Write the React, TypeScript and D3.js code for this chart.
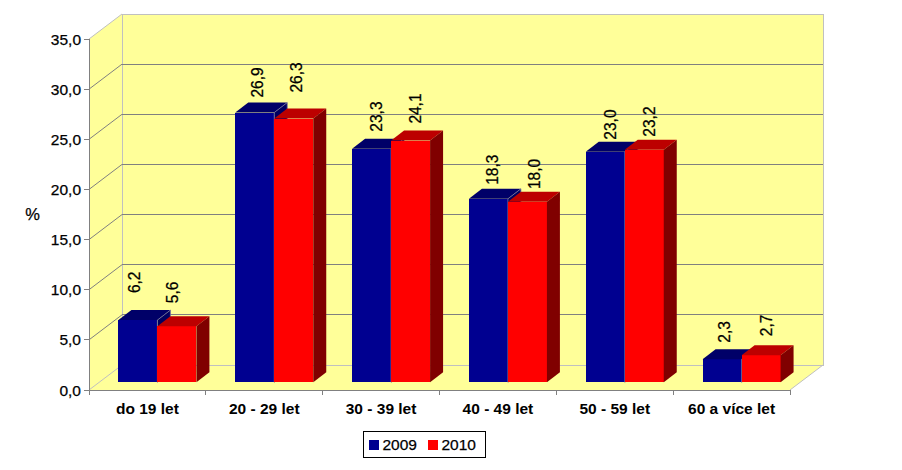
import * as d3 from "d3";

const categories = ["do 19 let", "20 - 29 let", "30 - 39 let", "40 - 49 let", "50 - 59 let", "60 a více let"];
const series2009 = [6.2, 26.9, 23.3, 18.3, 23.0, 2.3];
const series2010 = [5.6, 26.3, 24.1, 18.0, 23.2, 2.7];
const valueLabels2009 = ["6,2", "26,9", "23,3", "18,3", "23,0", "2,3"];
const valueLabels2010 = ["5,6", "26,3", "24,1", "18,0", "23,2", "2,7"];
const ticks = [0, 5, 10, 15, 20, 25, 30, 35];

// the original labels are not placed evenly, so nudge each one
const labelDx2009 = [22, 28, 30, 29, 30.7, 27];
const labelGap2009 = [27, 15, 17, 14, 12, 16.6];
const labelDx2010 = [20.7, 28, 29.7, 32, 30, 30.7];
const labelGap2010 = [23, 26, 17, 12.7, 13, 19];

const FONT = "'Liberation Sans', Arial, sans-serif";
const WALL = "#FFFF99";
const AXIS = "#808080";

// plot frame
const left = 89;
const right = 790;
const bottom = 390;
const top = 39;
const depthX = 33;
const depthY = 25;

// bars sit a bit inside the floor
const barShiftX = 10;
const barShiftY = 7.7;
const barDepthX = 13;
const barDepthY = 10;
const barW = 39;

const x = d3.scaleBand<string>().domain(categories).range([left, right]);
const y = d3.scaleLinear().domain([0, 35]).range([bottom, top]);

function Bar({ x0, value, face, topColor, side, edge }: { x0: number; value: number; face: string; topColor: string; side: string; edge?: string }) {
  const y0 = y(0) - barShiftY;
  const y1 = y(value) - barShiftY;
  const x1 = x0 + barW;
  return (
    <g>
      <rect x={x0} y={y1} width={barW} height={y0 - y1} fill={face} shapeRendering="crispEdges" />
      <path d={`M${x0},${y1}L${x0 + barDepthX},${y1 - barDepthY}L${x1 + barDepthX},${y1 - barDepthY}L${x1},${y1}Z`} fill={topColor} />
      <path d={`M${x1},${y1}L${x1 + barDepthX},${y1 - barDepthY}L${x1 + barDepthX},${y0 - barDepthY}L${x1},${y0}Z`} fill={side} stroke={edge} strokeWidth={edge ? 0.8 : 0} />
    </g>
  );
}

export default function App() {
  const band = x.bandwidth();
  const barLeft = (c: string) => (x(c) ?? 0) + band / 2 + barShiftX - barW;
  return (
    <svg width={902} height={470} style={{ position: "absolute", left: 0, top: 0, background: "#fff" }} fontFamily={FONT}>
      {/* walls and floor */}
      <path d={`M${left},${top}L${left + depthX},${top - depthY}H${right + depthX}V${bottom - depthY}L${right},${bottom}H${left}Z`} fill={WALL} />
      <path d={`M${left + depthX},${top - depthY}V${bottom - depthY}H${right + depthX}V${top - depthY}Z`} fill="none" stroke="#C0C0C0" shapeRendering="crispEdges" />
      <line x1={left} y1={top} x2={left + depthX} y2={top - depthY} stroke="#C0C0C0" />
      <line x1={left} y1={bottom} x2={left + depthX} y2={bottom - depthY} stroke="#C0C0C0" />
      <line x1={right} y1={bottom} x2={right + depthX} y2={bottom - depthY} stroke="#C0C0C0" />

      {/* gridlines */}
      {ticks.slice(1, -1).map((t) => (
        <g key={t}>
          <line x1={left} y1={y(t)} x2={left + depthX} y2={y(t) - depthY} stroke={AXIS} />
          <line x1={left + depthX} y1={y(t) - depthY} x2={right + depthX} y2={y(t) - depthY} stroke={AXIS} shapeRendering="crispEdges" />
        </g>
      ))}

      {/* bars */}
      {categories.map((c, i) => (
        <g key={c}>
          <Bar x0={barLeft(c)} value={series2009[i]} face="#000090" topColor="#000068" side="#000060" edge="#7878A0" />
          <Bar x0={barLeft(c) + barW} value={series2010[i]} face="#FF0000" topColor="#BC0000" side="#800000" />
        </g>
      ))}

      {/* value labels, a little taller than wide like the original */}
      {categories.map((c, i) => (
        <g key={c} fontSize={15.5} fill="#000" stroke="#000" strokeWidth={0.25}>
          <text transform={`translate(${barLeft(c) + labelDx2009[i]},${y(series2009[i]) - barShiftY - labelGap2009[i]}) rotate(-90) scale(1,1.08)`}>{valueLabels2009[i]}</text>
          <text transform={`translate(${barLeft(c) + barW + labelDx2010[i]},${y(series2010[i]) - barShiftY - labelGap2010[i]}) rotate(-90) scale(1,1.08)`}>{valueLabels2010[i]}</text>
        </g>
      ))}

      {/* axes */}
      <g shapeRendering="crispEdges" stroke={AXIS}>
        <line x1={left} y1={top} x2={left} y2={bottom + 5} />
        <line x1={left - 5} y1={bottom} x2={right} y2={bottom} />
        {ticks.map((t) => (
          <line key={t} x1={left - 5} y1={y(t)} x2={left} y2={y(t)} />
        ))}
        {categories.map((c) => (
          <line key={c} x1={(x(c) ?? 0) + band} y1={bottom} x2={(x(c) ?? 0) + band} y2={bottom + 5} />
        ))}
      </g>
      {ticks.map((t) => (
        <text key={t} x={81} y={y(t) + 5.5} textAnchor="end" fontSize={15.5} fill="#000" stroke="#000" strokeWidth={0.25}>
          {d3.format(".1f")(t).replace(".", ",")}
        </text>
      ))}
      {categories.map((c) => (
        <text key={c} x={(x(c) ?? 0) + band / 2} y={414} textAnchor="middle" fontSize={15.5} fontWeight={700} fill="#000">
          {c}
        </text>
      ))}
      <text x={32.5} y={220} textAnchor="middle" fontSize={16.5} fill="#000" stroke="#000" strokeWidth={0.25}>%</text>

      {/* legend */}
      <rect x={363.5} y={431.5} width={122} height={25.5} fill="#fff" stroke="#000" shapeRendering="crispEdges" />
      <rect x={369} y={440} width={10} height={10} fill="#000090" />
      <text x={382.5} y={450} fontSize={15.5} fill="#000" stroke="#000" strokeWidth={0.25}>2009</text>
      <rect x={428} y={440} width={10} height={10} fill="#FF0000" />
      <text x={441.5} y={450} fontSize={15.5} fill="#000" stroke="#000" strokeWidth={0.25}>2010</text>
    </svg>
  );
}
